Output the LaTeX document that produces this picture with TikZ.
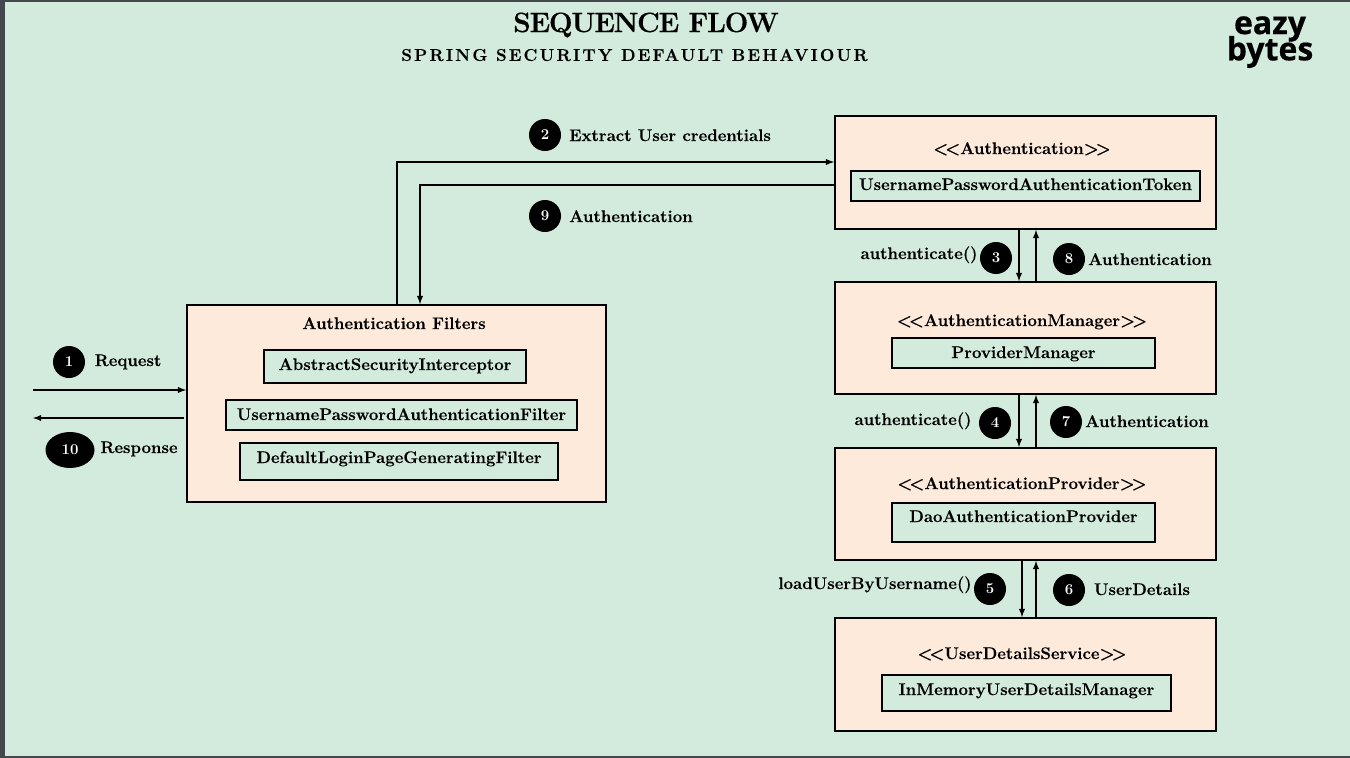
\documentclass[tikz,border=0pt]{standalone}
\usepackage{fontspec}
\setmainfont{Latin Modern Roman}
\usetikzlibrary{shapes.geometric}
\newfontfamily\logofont{Open Sans}
\newcommand{\bodyfont}{\bfseries\fontsize{16.8}{19}\selectfont\addfontfeatures{FakeBold=0.3}}
\newcommand{\stereo}[1]{<\kern-3pt<#1>\kern-3pt>}
\definecolor{mintbg}{HTML}{D3EBDD}
\definecolor{peachbg}{HTML}{FDEADB}
\definecolor{edgegray}{HTML}{43484D}
\tikzstyle{outerbox}=[draw=black, line width=1.8pt, fill=peachbg, inner sep=0pt]
\tikzstyle{innerbox}=[draw=black, line width=1.8pt, fill=mintbg, inner sep=0pt, text height=13pt, text depth=3pt, font=\bodyfont]
\tikzstyle{txt}=[inner sep=0pt, text height=13pt, text depth=3pt, font=\bodyfont]
\tikzstyle{badge}=[circle, fill=black, text=white, inner sep=0pt, minimum size=32pt, font=\bfseries\fontsize{15}{17}\selectfont]
\tikzstyle{arrow}=[line width=1.8pt, -latex]

\begin{document}
\begin{tikzpicture}[x=1pt, y=-1pt]
      \useasboundingbox (0, 0) rectangle (1350, 758);
      \fill[mintbg] (0, 0) rectangle (1350, 758);
      \fill[edgegray] (0, 0) rectangle (5, 758);
      \fill[edgegray] (0, 0) rectangle (1350, 2);
      \fill[edgegray] (0, 756) rectangle (1350, 758);

      \node[inner sep=0pt, font=\bfseries\fontsize{28}{30}\selectfont\addfontfeatures{LetterSpace=-4.5, FakeBold=0.4}] (title) at (646, 25) {SEQUENCE FLOW};
      \node[inner sep=0pt, font=\bfseries\fontsize{17}{19}\selectfont\addfontfeatures{LetterSpace=13, FakeBold=0.4}] (subtitle) at (634.5, 55) {SPRING SECURITY DEFAULT BEHAVIOUR};
      \node[inner sep=0pt, font=\logofont\bfseries\fontsize{32}{34}\selectfont\addfontfeatures{FakeBold=0.5}] (eazy) at (1270, 29) {eazy};
      \node[inner sep=0pt, font=\logofont\bfseries\fontsize{32}{34}\selectfont\addfontfeatures{FakeBold=0.5}] (bytes) at (1270, 52) {bytes};

      \node[outerbox, minimum width=419pt, minimum height=197pt] (filters) at (396.5, 403.5) {};
      \node[outerbox, minimum width=381pt, minimum height=113pt] (tokenbox) at (1025.5, 172.5) {};
      \node[outerbox, minimum width=381pt, minimum height=112pt] (managerbox) at (1025.5, 338) {};
      \node[outerbox, minimum width=381pt, minimum height=112pt] (providerbox) at (1025.5, 504) {};
      \node[outerbox, minimum width=381pt, minimum height=113pt] (servicebox) at (1025.5, 674.5) {};

      \node[txt] (filterstitle) at (394, 324) {Authentication Filters};
      \node[innerbox, text depth=6pt, minimum width=262pt, minimum height=33pt] (interceptor) at (395, 366.5) {AbstractSecurityInterceptor};
      \node[innerbox, minimum width=351pt, minimum height=30pt] (userfilter) at (401.5, 415) {UsernamePasswordAuthenticationFilter};
      \node[innerbox, text depth=10pt, minimum width=318pt, minimum height=37pt] (loginfilter) at (399, 461.5) {DefaultLoginPageGeneratingFilter};

      \node[txt] (tokentitle) at (1022, 149) {\stereo{Authentication}};
      \node[innerbox, text depth=5pt, minimum width=349pt, minimum height=30pt] (token) at (1025.5, 186) {UsernamePasswordAuthenticationToken};
      \node[txt] (managertitle) at (1022, 321) {\stereo{AuthenticationManager}};
      \node[innerbox, minimum width=263pt, minimum height=30pt] (manager) at (1023.5, 353) {ProviderManager};
      \node[txt] (providertitle) at (1022, 484) {\stereo{AuthenticationProvider}};
      \node[innerbox, text depth=14pt, minimum width=263pt, minimum height=39pt] (provider) at (1023.5, 522.5) {DaoAuthenticationProvider};
      \node[txt] (servicetitle) at (1022, 654) {\stereo{UserDetailsService}};
      \node[innerbox, text depth=9pt, minimum width=289pt, minimum height=36pt] (service) at (1026.5, 693) {InMemoryUserDetailsManager};

      \coordinate (requeststart) at (33, 390);
      \coordinate (responseend) at (33, 418);
      \draw[arrow] (requeststart) to (requeststart -| filters.west);
      \draw[arrow] ([xshift=-2pt]responseend -| filters.west) to (responseend);
      \draw[arrow] ([xshift=0.5pt]filters.north) |- ([yshift=10.5pt]tokenbox.west);
      \draw[arrow] ([yshift=-12.5pt]tokenbox.west) -| ([xshift=23.5pt]filters.north);
      \draw[arrow] ([xshift=-6.5pt]tokenbox.south) to ([xshift=-6.5pt]managerbox.north);
      \draw[arrow] ([xshift=10.5pt]managerbox.north) to ([xshift=10.5pt]tokenbox.south);
      \draw[arrow] ([xshift=-6.5pt]managerbox.south) to ([xshift=-6.5pt]providerbox.north);
      \draw[arrow] ([xshift=10.5pt]providerbox.north) to ([xshift=10.5pt]managerbox.south);
      \draw[arrow] ([xshift=-3.5pt]providerbox.south) to ([xshift=-3.5pt]servicebox.north);
      \draw[arrow] ([xshift=10.5pt]servicebox.north) to ([xshift=10.5pt]providerbox.south);

      \node[badge] (one) at (69, 362) {1};
      \node[badge, ellipse, minimum width=49pt, minimum height=36pt] (ten) at (70, 450) {10};
      \node[badge] (two) at (545, 135) {2};
      \node[badge] (nine) at (545, 216) {9};
      \node[badge] (three) at (996, 258) {3};
      \node[badge] (eight) at (1069, 259) {8};
      \node[badge] (four) at (995, 423) {4};
      \node[badge] (seven) at (1066, 422) {7};
      \node[badge] (five) at (990, 589) {5};
      \node[badge] (six) at (1069, 590) {6};

      \node[txt] (request) at (128, 361) {Request};
      \node[txt] (response) at (139, 448) {Response};
      \node[txt] (extract) at (670, 136) {Extract User credentials};
      \node[txt] (returned) at (631, 217) {Authentication};
      \node[txt] (callmanager) at (919, 254) {authenticate()};
      \node[txt] (frommanager) at (1150, 260) {Authentication};
      \node[txt] (callprovider) at (913, 420) {authenticate()};
      \node[txt] (fromprovider) at (1147, 422) {Authentication};
      \node[txt] (loaduser) at (875, 584) {loadUserByUsername()};
      \node[txt] (details) at (1142, 590) {UserDetails};
    \end{tikzpicture}
\end{document}
